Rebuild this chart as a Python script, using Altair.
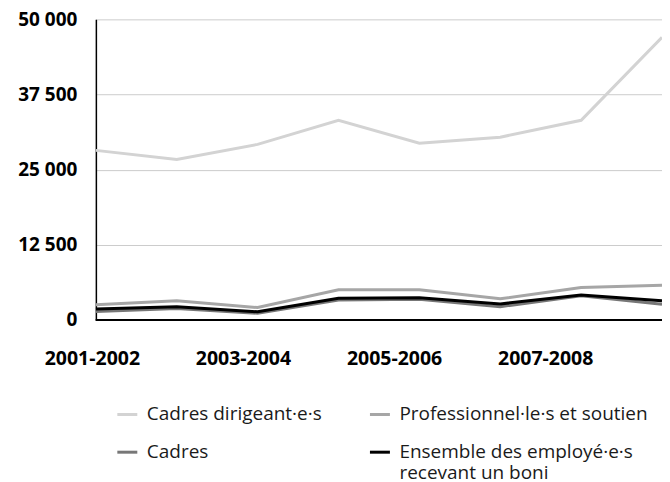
import altair as alt
import pandas as pd

years = ["2001-2002", "2002-2003", "2003-2004", "2004-2005",
         "2005-2006", "2006-2007", "2007-2008", "2008-2009"]
x_labels = ["2001-2002", "2003-2004", "2005-2006", "2007-2008"]
y_ticks = [0, 12500, 25000, 37500, 50000]

series_names = ["Cadres dirigeant·e·s", "Cadres",
                "Professionnel·le·s et soutien",
                "Ensemble des employé·e·s recevant un boni"]
dirigeants = [28200, 26700, 29200, 33200, 29400, 30400, 33200, 47000]
cadres = [1400, 1900, 1100, 3300, 3450, 2200, 4000, 2600]
professionnels = [2500, 3200, 2050, 5000, 5000, 3500, 5400, 5750]
ensemble = [1800, 2200, 1350, 3600, 3700, 2650, 4150, 3200]
colors = ["#d3d3d3", "#777777", "#a6a6a6", "#000000"]

rows = []
for name, vals in zip(series_names, [dirigeants, cadres, professionnels, ensemble]):
    for yr, v in zip(years, vals):
        rows.append({"Année": yr, "Série": name, "Valeur": v})
df = pd.DataFrame(rows)
lab_df = pd.DataFrame({"Étiquette": x_labels})

FONT = "Open Sans"

lines = alt.Chart(df).mark_line(strokeWidth=3).encode(
    x=alt.X("Année:N", sort=years,
            scale=alt.Scale(type="point", padding=0), axis=None),
    y=alt.Y("Valeur:Q", scale=alt.Scale(domain=[0, 50000], nice=False),
            axis=alt.Axis(values=y_ticks, title=None, ticks=False,
                          labelExpr="replace(format(datum.value, ','), ',', ' ')",
                          labelFont=FONT, labelFontSize=19, labelFontWeight="bold",
                          labelColor="black", labelPadding=19,
                          domainColor="black", domainWidth=1.5,
                          gridColor="#cccccc", gridWidth=1)),
    color=alt.Color("Série:N",
                    scale=alt.Scale(domain=series_names, range=colors),
                    legend=alt.Legend(
                        title=None, orient="none", legendX=20, legendY=384,
                        columns=2, columnPadding=41, rowPadding=16,
                        symbolType="stroke", symbolSize=400, symbolStrokeWidth=3,
                        labelFont=FONT, labelFontSize=19, labelColor="#1a1a1a",
                        labelOffset=8, padding=0, labelLimit=400,
                        labelExpr="datum.label == 'Ensemble des employé·e·s recevant un boni' ? ['Ensemble des employé·e·s', 'recevant un boni'] : datum.label")),
)

baseline = alt.Chart(lab_df).mark_rule(color="black", strokeWidth=1.5).encode(
    y=alt.Y(datum=0)
)

labels = alt.Chart(lab_df).mark_point(opacity=0).encode(
    x=alt.X("Étiquette:N", sort=x_labels,
            scale=alt.Scale(type="point", range=[-4, 450], padding=0),
            axis=alt.Axis(orient="bottom", title=None, labelAngle=0, ticks=False,
                          domain=False, grid=False, labelFont=FONT, labelFontSize=19.5,
                          labelFontWeight="bold", labelColor="black", labelPadding=30))
)

chart = alt.layer(lines, baseline, labels).resolve_scale(x="independent").properties(
    width=567, height=301,
    autosize=alt.AutoSizeParams(type="none"),
    padding={"left": 88, "top": 11, "right": 0, "bottom": 166},
).configure_view(stroke=None)

chart.save("out.html", embed_options={"renderer": "svg", "actions": False})
